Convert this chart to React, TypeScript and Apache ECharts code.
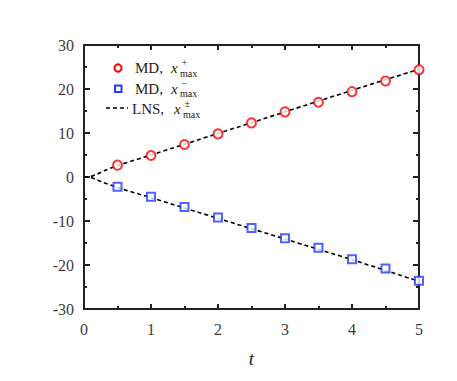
import React, { useEffect, useRef } from "react";
import * as echarts from "echarts";

const mdT = [0.5, 1, 1.5, 2, 2.5, 3, 3.5, 4, 4.5, 5];
const mdPlus = [2.7, 4.9, 7.4, 9.8, 12.3, 14.8, 17.0, 19.4, 21.8, 24.4];
const mdMinus = [-2.2, -4.5, -6.8, -9.2, -11.6, -13.9, -16.1, -18.7, -20.8, -23.6];
const lnsT = [0, 0.1, 0.2, 0.3, 0.5, 1, 2, 3, 4, 5];
const lnsPlus = [0, 0.1, 0.7, 1.4, 2.6, 5.0, 9.9, 14.8, 19.7, 24.5];
const lnsMinus = [0, -0.1, -0.7, -1.3, -2.4, -4.7, -9.4, -14.1, -18.8, -23.7];
const xTicks = [0, 1, 2, 3, 4, 5];
const yTicks = [-30, -20, -10, 0, 10, 20, 30];

const FONT = "Liberation Serif";
const AXIS = "#222";
const RED = "#ff0000";
const BLUE = "#1f3cff";
const OFF = 8; // body margin

export default function App() {
  const ref = useRef<HTMLDivElement>(null);
  useEffect(() => {
    if (!ref.current) return;
    const chart = echarts.init(ref.current, null, { renderer: "svg" });
    const pair = (xs: number[], ys: number[]) => xs.map((x, i) => [x, ys[i]]);
    const axisCommon = {
      type: "value" as const,
      axisLine: { show: true, onZero: false, lineStyle: { color: AXIS, width: 2 } },
      splitLine: { show: false },
      minorTick: { show: true, splitNumber: 2, length: 3, lineStyle: { color: AXIS, width: 2 } },
      axisTick: { show: true, inside: true, length: 5, lineStyle: { color: AXIS, width: 2 } },
    };
    const txt = (x: number, y: number, text: string, size: number, italic = false) => ({
      type: "text",
      x: x - OFF,
      y: y - OFF,
      style: {
        text,
        fontSize: size,
        fontFamily: FONT,
        fontStyle: italic ? "italic" : "normal",
        fill: "#222",
        verticalAlign: "middle",
        align: "left",
      },
    });
    const legendText = (x: number, y: number, label: string, sup: string, dx: number) => [
      txt(x, y, label, 15),
      txt(x + dx, y, "x", 15, true),
      txt(x + dx + 10.5, y - 5.5, sup, 10),
      txt(x + dx + 9, y + 5, "max", 10),
    ];
    chart.setOption({
      animation: false,
      grid: { left: 84 - OFF, right: 441 - (419 - OFF), top: 45 - OFF, bottom: 365 - (313 - OFF) },
      xAxis: [
        {
          ...axisCommon,
          position: "bottom",
          min: 0,
          max: 5,
          interval: 1,
          axisLabel: {
            show: true,
            margin: 12,
            fontSize: 16,
            fontFamily: FONT,
            color: "#3c3c3c",
            formatter: (v: number) => (xTicks.includes(v) ? String(v) : ""),
          },
          name: "t",
          nameLocation: "middle",
          nameGap: 40,
          nameTextStyle: { fontSize: 19, fontStyle: "italic", fontFamily: FONT, color: "#222" },
        },
        {
          ...axisCommon,
          position: "top",
          min: 0,
          max: 5,
          interval: 1,
          axisLabel: { show: false },
        },
      ],
      yAxis: [
        {
          ...axisCommon,
          position: "left",
          min: -30,
          max: 30,
          interval: 10,
          axisTick: { ...axisCommon.axisTick, length: 6 },
          axisLabel: {
            show: true,
            margin: 10,
            fontSize: 16,
            fontFamily: FONT,
            color: "#3c3c3c",
            formatter: (v: number) => (yTicks.includes(v) ? String(v) : ""),
          },
        },
        {
          ...axisCommon,
          position: "right",
          min: -30,
          max: 30,
          interval: 10,
          axisTick: { ...axisCommon.axisTick, length: 6 },
          axisLabel: { show: false },
        },
      ],
      series: [
        {
          type: "line",
          data: pair(lnsT, lnsPlus),
          smooth: 0.3,
          symbol: "none",
          lineStyle: { color: "#000", width: 1.6, type: [4, 3] },
          z: 2,
        },
        {
          type: "line",
          data: pair(lnsT, lnsMinus),
          smooth: 0.3,
          symbol: "none",
          lineStyle: { color: "#000", width: 1.6, type: [4, 3] },
          z: 2,
        },
        {
          type: "scatter",
          data: pair(mdT, mdPlus),
          symbol: "circle",
          symbolSize: 9,
          itemStyle: { color: "#fff", borderColor: RED, borderWidth: 2 },
          z: 3,
        },
        {
          type: "scatter",
          data: pair(mdT, mdMinus),
          symbol: "rect",
          symbolSize: 8,
          itemStyle: { color: "#fff", borderColor: BLUE, borderWidth: 2 },
          z: 3,
        },
      ],
      graphic: [
        { type: "circle", shape: { cx: 118 - OFF, cy: 68 - OFF, r: 3.6 }, style: { fill: "#fff", stroke: RED, lineWidth: 2 } },
        { type: "rect", shape: { x: 115 - OFF, y: 85.5 - OFF, width: 6.5, height: 6.5 }, style: { fill: "#fff", stroke: BLUE, lineWidth: 2 } },
        { type: "line", shape: { x1: 106 - OFF, y1: 108 - OFF, x2: 128 - OFF, y2: 108 - OFF }, style: { stroke: "#000", lineWidth: 1.6, lineDash: [4, 3] } },
        ...legendText(135, 68, "MD,", "+", 36),
        ...legendText(135, 88.5, "MD,", "\u2212", 36),
        ...legendText(132, 109, "LNS,", "\u00b1", 42),
      ],
    });
    return () => chart.dispose();
  }, []);
  return <div ref={ref} style={{ width: 441, height: 365 }} />;
}
